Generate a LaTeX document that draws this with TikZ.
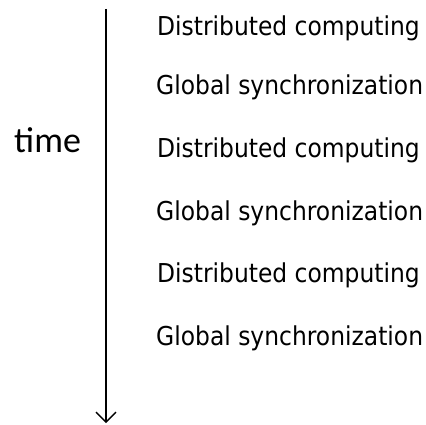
\documentclass[tikz,border=0pt]{standalone}
\usepackage{fontspec}
\usetikzlibrary{arrows.meta}
\newfontfamily\stepfont[FakeStretch=0.9]{DejaVu Sans}
\newfontfamily\timefont{Carlito}
\begin{document}
\begin{tikzpicture}[x=1pt,y=-1pt,
  phase/.style={anchor=base west,inner sep=0pt,font=\stepfont\fontsize{26}{30}\selectfont},
  timelabel/.style={anchor=base west,inner sep=0pt,font=\timefont\fontsize{36}{40}\selectfont},
  timeline/.style={line width=1.3pt,-{Straight Barb[length=10pt,width=20pt]}}]
\useasboundingbox (0,0) rectangle (426,425);
\coordinate (top) at (106,9);
\coordinate (bot) at (106,423);
\draw[timeline] (top) -- (bot);
\node[timelabel] (time) at (14,153) {time};
\node[phase] (dc1) at (157,36) {Distributed computing};
\node[phase] (gs1) at (156,95) {Global synchronization};
\node[phase] (dc2) at (157,158) {Distributed computing};
\node[phase] (gs2) at (156,220) {Global synchronization};
\node[phase] (dc3) at (157,282) {Distributed computing};
\node[phase] (gs3) at (156,345) {Global synchronization};
\end{tikzpicture}
\end{document}
